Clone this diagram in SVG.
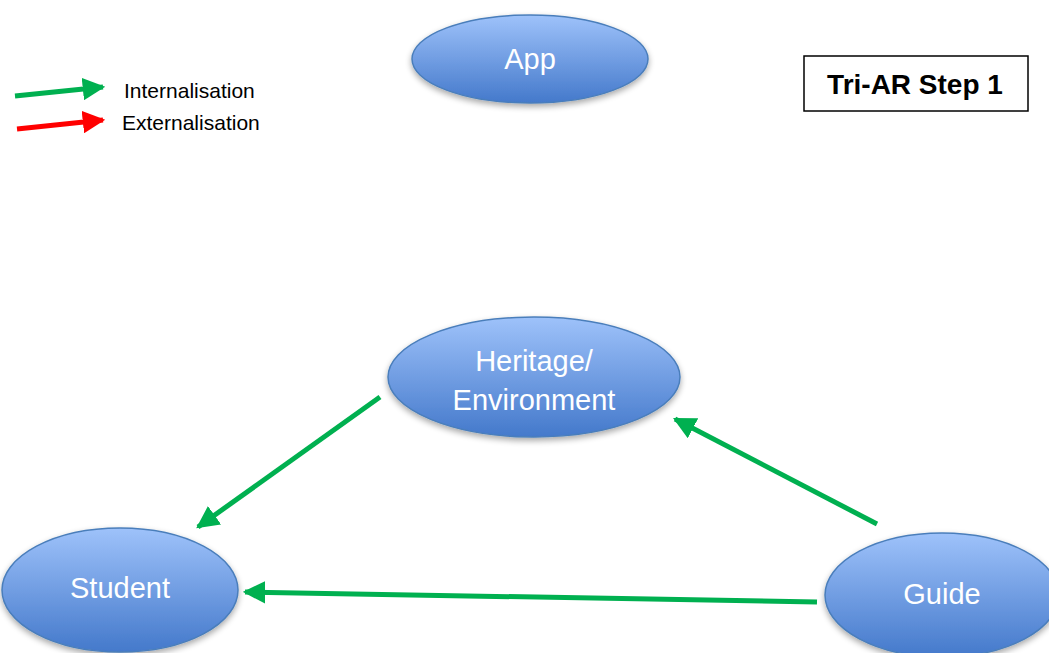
<svg xmlns="http://www.w3.org/2000/svg" width="1049" height="653" viewBox="0 0 1049 653">
<defs>
<linearGradient id="g" x1="0" y1="0" x2="0" y2="1">
<stop offset="0" stop-color="#9EC2FA"/>
<stop offset="1" stop-color="#4479CB"/>
</linearGradient>
<filter id="sh" x="-20%" y="-20%" width="140%" height="150%">
<feGaussianBlur in="SourceAlpha" stdDeviation="3"/>
<feOffset dx="0" dy="3"/>
<feComponentTransfer><feFuncA type="linear" slope="0.35"/></feComponentTransfer>
<feMerge><feMergeNode/><feMergeNode in="SourceGraphic"/></feMerge>
</filter>
<marker id="ag" viewBox="0 0 10 10" refX="9" refY="5" markerWidth="4.5" markerHeight="4.5" orient="auto" markerUnits="strokeWidth">
<path d="M0,0 L10,5 L0,10 z" fill="#00B050"/>
</marker>
<marker id="ar" viewBox="0 0 10 10" refX="9" refY="5" markerWidth="4.5" markerHeight="4.5" orient="auto" markerUnits="strokeWidth">
<path d="M0,0 L10,5 L0,10 z" fill="#FF0000"/>
</marker>
</defs>
<style>
.node ellipse{fill:url(#g);stroke:#4A7EBB;stroke-width:1.5;filter:url(#sh)}
.nt{font-family:"Liberation Sans",Arial,sans-serif;fill:#fff;text-anchor:middle;font-size:29px}
.leg{font-family:"Liberation Sans",Arial,sans-serif;font-size:21px;fill:#000}
.g{stroke:#00B050;stroke-width:5;fill:none;marker-end:url(#ag)}
.r{stroke:#FF0000;stroke-width:5;fill:none;marker-end:url(#ar)}
</style>
<rect width="1049" height="653" fill="#fff"/>
<g id="legend">
<line class="g" x1="15" y1="96" x2="103" y2="87"/>
<line class="r" x1="17" y1="129" x2="103" y2="120"/>
<text class="leg" x="124" y="98">Internalisation</text>
<text class="leg" x="122" y="130">Externalisation</text>
</g>
<g id="title">
<rect x="804" y="56" width="224" height="55" fill="#fff" stroke="#000" stroke-width="1.5"/>
<text x="915" y="94" font-family="Liberation Sans,Arial,sans-serif" font-size="28" font-weight="bold" text-anchor="middle">Tri-AR Step 1</text>
</g>
<g id="app" class="node">
<ellipse cx="530" cy="59" rx="118" ry="44"/>
<text class="nt" x="530" y="69" font-size="30">App</text>
</g>
<g id="heritage" class="node">
<ellipse cx="534" cy="377" rx="146" ry="60"/>
<text class="nt" x="534" y="371">Heritage/</text>
<text class="nt" x="534" y="410">Environment</text>
</g>
<g id="student" class="node">
<ellipse cx="120" cy="590" rx="118" ry="62"/>
<text class="nt" x="120" y="598">Student</text>
</g>
<g id="guide" class="node">
<ellipse cx="942" cy="595" rx="117" ry="62"/>
<text class="nt" x="942" y="604">Guide</text>
</g>
<g id="connectors">
<line class="g" x1="380" y1="397" x2="198" y2="527"/>
<line class="g" x1="877" y1="524" x2="675" y2="419"/>
<line class="g" x1="817" y1="602" x2="245" y2="592"/>
</g>
</svg>
